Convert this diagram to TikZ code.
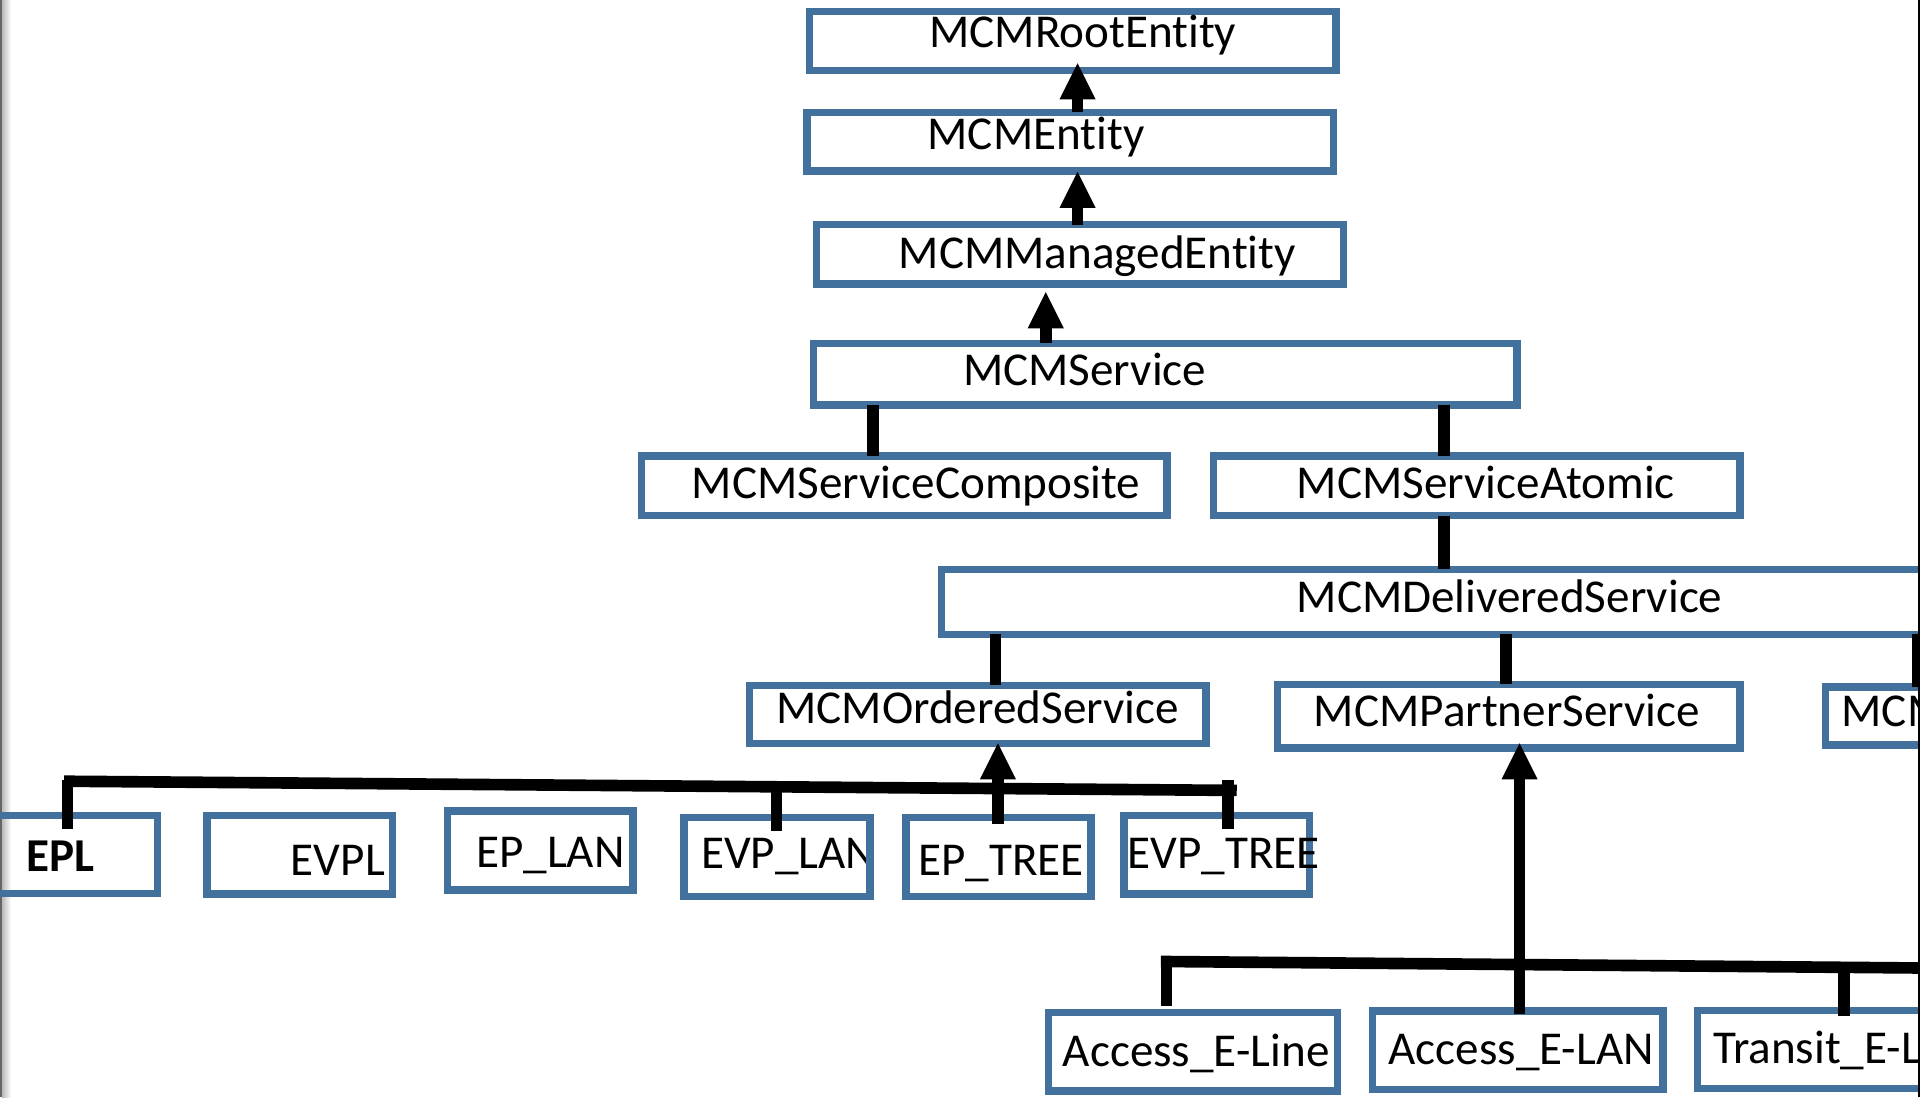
\documentclass[tikz,border=0pt]{standalone}
\usepackage{fontspec}
\setmainfont{Carlito}[Ligatures={NoCommon}]
\usetikzlibrary{arrows.meta,calc}
\definecolor{boxblue}{RGB}{65,113,156}
\begin{document}
\begin{tikzpicture}[x=1pt,y=-1pt,
  cls/.style={draw=boxblue,line width=6pt,inner sep=0pt,outer sep=0pt},
  lbl/.style={anchor=base west,inner sep=0pt,outer sep=0pt,font=\fontsize{38.5}{40}\selectfont},
  link/.style={line width=9.5pt,draw=black},
  inh/.style={link,-{Triangle[width=29.5pt,length=29.5pt,line width=0pt]}}]
\useasboundingbox (0,0) rectangle (1568,896);
\fill[white] (0,0) rectangle (1568,896);
\begin{scope}
\clip (0,0) rectangle (1568,896);
% left page edge
\shade[left color=gray!55,right color=white] (1.5,0) rectangle (9,896);
\fill[gray!80!black] (0,0) rectangle (1.5,896);

% boxes
\node[cls,minimum width=430pt,minimum height=48pt] (root) at (876,33.5) {};
\node[cls,minimum width=430pt,minimum height=48pt] (ent) at (874,115.75) {};
\node[cls,minimum width=430pt,minimum height=48.5pt] (managed) at (882,207.75) {};
\node[cls,minimum width=574.4pt,minimum height=50.4pt] (service) at (951.8,305.5) {};
\node[cls,minimum width=429pt,minimum height=48.5pt] (composite) at (738.5,396.75) {};
\node[cls,minimum width=430pt,minimum height=48.5pt] (atomic) at (1206,396.75) {};
\node[cls,minimum width=931pt,minimum height=53pt] (delivered) at (1234.5,491.5) {};
\node[cls,minimum width=373pt,minimum height=47.2pt] (ordered) at (798.5,583.4) {};
\node[cls,minimum width=377.5pt,minimum height=51.8pt] (partner) at (1232.25,584.9) {};
\node[cls,minimum width=309pt,minimum height=47.5pt] (third) at (1645.5,584.75) {};
\node[cls,minimum width=148.7pt,minimum height=63.6pt] (epl) at (54.35,697.8) {};
\node[cls,minimum width=151.6pt,minimum height=64pt] (evpl) at (244.8,698) {};
\node[cls,minimum width=151.4pt,minimum height=64.4pt] (eplan) at (441.3,694.6) {};
\node[lbl] (t-evplan) at (572.6,709) {EVP\_LAN};
\node[cls,minimum width=152.1pt,minimum height=64.3pt] (evplan) at (634.55,699.85) {};
\node[cls,minimum width=151pt,minimum height=64.3pt] (eptree) at (815.5,699.85) {};
\node[cls,minimum width=151.7pt,minimum height=64.2pt] (evptree) at (993.65,697.9) {};
\node[cls,minimum width=236.5pt,minimum height=64pt] (aeline) at (974.25,859) {};
\node[cls,minimum width=237pt,minimum height=64.1pt] (aelan) at (1239.5,857.55) {};
\node[cls,minimum width=237pt,minimum height=64pt] (transit) at (1505,857) {};

% texts
\node[lbl] (t-root) at (759,38.7) {MCMRootEntity};
\node[lbl] (t-ent) at (757.6,121.7) {MCMEntity};
\node[lbl] (t-managed) at (734,219) {MCMManagedEntity};
\node[lbl] (t-service) at (786.5,315) {MCMService};
\node[lbl] (t-composite) at (565,406.7) {MCMServiceComposite};
\node[lbl] (t-atomic) at (1059,406.7) {MCMServiceAtomic};
\node[lbl] (t-delivered) at (1059,500) {MCMDeliveredService};
\node[lbl] (t-ordered) at (634,590.8) {MCMOrderedService};
\node[lbl] (t-partner) at (1073,593) {MCMPartnerService};
\node[lbl] (t-third) at (1504,593) {MCM};
\node[lbl,font=\fontsize{38.5}{40}\selectfont\bfseries] (t-epl) at (21.8,712) {EPL};
\node[lbl] (t-evpl) at (237.6,715) {EVPL};
\node[lbl] (t-eplan) at (389,708.4) {EP\_LAN};
\node[lbl] (t-eptree) at (750,715) {EP\_TREE};
\node[lbl] (t-evptree) at (921,709) {EVP\_TREE};
\node[lbl] (t-aeline) at (868,870.6) {Access\_E-Line};
\node[lbl] (t-aelan) at (1134,869) {Access\_E-LAN};
\node[lbl] (t-transit) at (1399,868.5) {Transit\_E-L};

% connector columns
\coordinate (xa) at (880,0);
\coordinate (xb) at (854,0);
\coordinate (xc) at (713,0);
\coordinate (xd) at (1179,0);
\coordinate (xe) at (813,0);
\coordinate (xf) at (1230,0);
\coordinate (xg) at (1566,0);
\coordinate (xh) at (815,0);
\coordinate (xi) at (1241,0);

% inheritance arrows
\draw[inh] (ent.north -| xa) -- ($(root.south -| xa)+(0,-5.8)$);
\draw[inh] (managed.north -| xa) -- ($(ent.south -| xa)+(0,0.5)$);
\draw[inh] (service.north -| xb) -- ($(managed.south -| xb)+(0,6.6)$);

% plain links
\draw[link] (service.south -| xc) -- (composite.north -| xc);
\draw[link] (service.south -| xd) -- (atomic.north -| xd);
\draw[link] (atomic.south -| xd) -- (delivered.north -| xd);
\draw[link] (delivered.south -| xe) -- (ordered.north -| xe);
\draw[link] (delivered.south -| xf) -- (partner.north -| xf);
\draw[link] (delivered.south -| xg) -- (third.north -| xg);

% ordered-service tree
\coordinate (ob1) at (52.3,638);
\coordinate (ob2) at (1010,645.5);
\coordinate (oj1) at (55,637);
\coordinate (oj2) at (634,642.6);
\coordinate (oj3) at (1003,636.6);
\draw[link] (ob1) -- (ob2);
\draw[link] (oj1) -- ($(epl.north -| oj1)+(0,11)$);
\draw[link] (oj2) -- ($(evplan.north -| oj2)+(0,10.8)$);
\draw[link] (oj3) -- ($(evptree.north -| oj3)+(0,11.2)$);
\draw[inh] ($(eptree.north -| xh)+(0,5.3)$) -- (ordered.south -| xh);

% partner-service tree
\coordinate (pb1) at (948,785.2);
\coordinate (pb2) at (1600,790.8);
\coordinate (pj1) at (952.6,781);
\coordinate (pj2) at (1506,790);
\draw[link] (pb1) -- (pb2);
\draw[link] (pj1) -- ($(aeline.north -| pj1)+(0,-5.3)$);
\draw[link] (pj2) -- ($(transit.north -| pj2)+(0,5)$);
\draw[inh] ($(aelan.north -| xi)+(0,2.5)$) -- ($(partner.south -| xi)+(0,-3.8)$);

% right page edge
\draw[line width=2pt,black] (1567,0) -- (1567,896);
\end{scope}
\end{tikzpicture}
\end{document}
